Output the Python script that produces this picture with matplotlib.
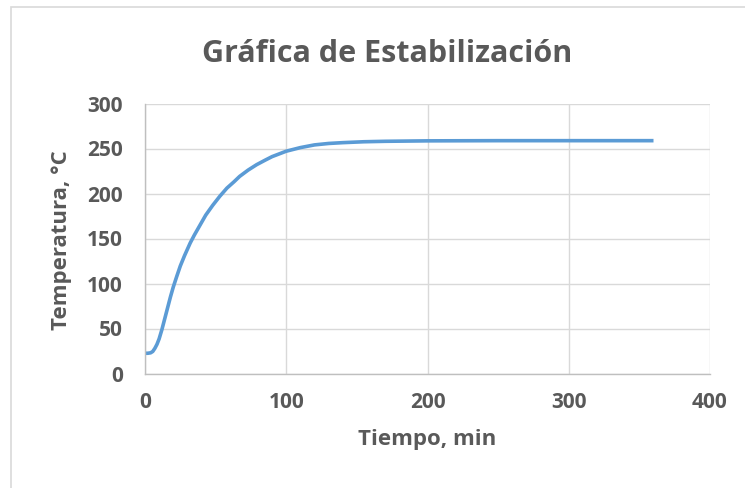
import matplotlib.pyplot as plt
from matplotlib.patches import Rectangle

# datos
tiempo = [0, 2, 4, 5.5, 7, 8.5, 10, 12, 14, 16, 18, 20, 22.5, 25, 28, 32, 35, 39, 43, 48,
          53, 58, 63, 67, 73, 79, 85, 90, 95, 100, 110, 120, 130, 140, 155, 170, 200,
          250, 300, 360]
temperatura = [22.5, 22.5, 23, 24.5, 28, 32.5, 38.5, 49, 61, 73, 85, 96, 108, 119.5, 131,
               145, 154, 165, 176, 187, 197, 206, 213, 219, 226, 232, 237, 241, 244,
               247, 251, 254, 255.6, 256.5, 257.5, 258, 258.5, 258.7, 258.7, 258.7]
xticks = [0, 100, 200, 300, 400]
yticks = [0, 50, 100, 150, 200, 250, 300]

gris = "#595959"
plt.rcParams["font.family"] = ["Open Sans", "DejaVu Sans"]

fig = plt.figure(figsize=(7.45, 4.88), dpi=100)
fig.patches.append(Rectangle((11/745, -0.1), 1.2, 1 - 7/488 + 0.1, transform=fig.transFigure,
                             fill=False, edgecolor="#D9D9D9", linewidth=1.2))
ax = fig.add_axes([145/745, 1 - 373.5/488, 565/745, 270/488])

ax.plot(tiempo, temperatura, color="#5B9BD5", linewidth=2.6, solid_capstyle="butt",
        solid_joinstyle="round")
ax.set_xlim(0, 400)
ax.set_ylim(0, 300)
ax.set_xticks(xticks)
ax.set_yticks(yticks)
ax.grid(True, color="#D9D9D9", linewidth=1.0)
ax.set_axisbelow(True)
for s in ["top", "right"]:
    ax.spines[s].set_visible(False)
for s in ["left", "bottom"]:
    ax.spines[s].set_color("#BFBFBF")
    ax.spines[s].set_linewidth(1.0)
ax.tick_params(length=0, labelsize=15, labelcolor=gris)
ax.tick_params(axis="y", pad=16)
ax.tick_params(axis="x", pad=13)
for lab in ax.get_xticklabels() + ax.get_yticklabels():
    lab.set_fontweight("bold")

fig.text(387/745, 1 - 54/488, "Gráfica de Estabilización", fontsize=22, fontweight="bold",
         color=gris, ha="center", va="center")
fig.text(427/745, 1 - 440/488, "Tiempo, min", fontsize=16, fontweight="bold",
         color=gris, ha="center", va="center")
fig.text(62/745, 1 - 240/488, "Temperatura, °C", fontsize=16, fontweight="bold",
         color=gris, ha="center", va="center", rotation=90)

fig.savefig("out.png", dpi=100)
